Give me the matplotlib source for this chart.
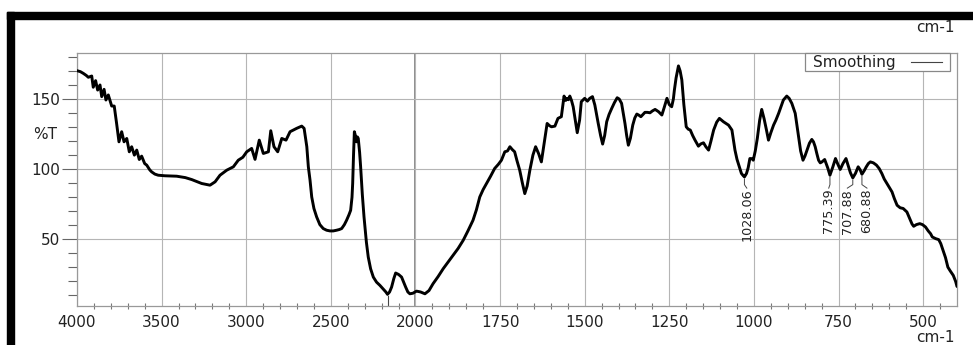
import matplotlib
matplotlib.use('Agg')
import matplotlib.pyplot as plt
import numpy as np
from matplotlib.lines import Line2D
from matplotlib.patches import Rectangle
from matplotlib.ticker import FixedLocator

# IR transmission spectrum (smoothed), wavenumber in cm-1 and %T
wavenumber = [
    4000, 3980, 3963, 3945, 3933, 3913, 3904, 3890, 3878, 3864,
    3854, 3840, 3829, 3815, 3795, 3780, 3766, 3752, 3736, 3722,
    3706, 3691, 3677, 3661, 3647, 3632, 3618, 3600, 3588, 3570,
    3559, 3540, 3520, 3480, 3411, 3360, 3322, 3263, 3214, 3184,
    3155, 3115, 3076, 3047, 3020, 2997, 2968, 2948, 2923, 2899,
    2869, 2855, 2836, 2814, 2790, 2765, 2741, 2702, 2672, 2658,
    2642, 2633, 2623, 2613, 2600, 2584, 2565, 2545, 2525, 2505,
    2486, 2466, 2450, 2436, 2420, 2407, 2393, 2383, 2375, 2371,
    2366, 2361, 2355, 2348, 2343, 2338, 2330, 2324, 2314, 2304,
    2290, 2279, 2265, 2249, 2230, 2210, 2190, 2175, 2165, 2153,
    2141, 2128, 2117, 2100, 2082, 2070, 2058, 2045, 2033, 2015,
    1997, 1985, 1972, 1960, 1948, 1933, 1918, 1903, 1889, 1874,
    1859, 1845, 1830, 1820, 1810, 1800, 1790, 1778, 1766, 1755,
    1746, 1736, 1728, 1721, 1714, 1707, 1700, 1692, 1684, 1677,
    1670, 1662, 1653, 1645, 1636, 1628, 1620, 1611, 1604, 1598,
    1588, 1579, 1569, 1565, 1561, 1556, 1552, 1548, 1544, 1539,
    1534, 1528, 1522, 1515, 1510, 1505, 1500, 1492, 1485, 1477,
    1470, 1460, 1453, 1447, 1441, 1435, 1428, 1420, 1412, 1404,
    1398, 1391, 1381, 1376, 1371, 1365, 1358, 1352, 1346, 1340,
    1334, 1328, 1322, 1315, 1307, 1300, 1292, 1282, 1272, 1265,
    1257, 1250, 1243, 1238, 1235, 1230, 1223, 1218, 1213, 1207,
    1200, 1194, 1188, 1181, 1174, 1164, 1157, 1149, 1142, 1134,
    1127, 1119, 1110, 1102, 1096, 1090, 1082, 1075, 1065, 1056,
    1050, 1043, 1037, 1032, 1028.06, 1022, 1017, 1012, 1006, 1002,
    996, 990, 983, 977, 970, 963, 957, 950, 942, 935,
    927, 920, 913, 903, 896, 888, 878, 868, 862, 855,
    849, 843, 836, 829, 824, 819, 814, 809, 804, 799,
    791, 782, 775.39, 767, 759, 752, 745, 737, 728, 722,
    715, 707.88, 700, 692, 686, 680.88, 674, 668, 662, 656,
    647, 638, 630, 622, 615, 607, 600, 592, 585, 577,
    568, 559, 548, 540, 533, 528, 520, 510, 502, 493,
    485, 478, 473, 463, 454, 448, 441, 434, 427, 420,
    411, 404, 400,
]
transmittance = [
    170.2, 169.5, 168.3, 166.8, 165.5, 166.4, 158.4, 163.1, 156.4, 160.0,
    151.7, 156.9, 149.3, 152.9, 145.0, 145.0, 132.6, 119.5, 126.7, 119.5,
    121.9, 112.4, 116.0, 110.0, 113.6, 106.9, 109.3, 104.0, 102.9, 99.5,
    98.1, 96.5, 95.7, 95.3, 95.0, 94.0, 92.6, 89.8, 88.6, 91.0,
    95.7, 99.3, 101.7, 106.4, 108.5, 112.4, 114.8, 107.0, 120.7, 111.2,
    112.4, 127.4, 116.0, 112.4, 121.9, 120.7, 126.7, 129.1, 130.7, 129.1,
    116.0, 101.7, 92.2, 80.2, 72.0, 66.0, 60.5, 57.7, 56.5, 56.0,
    56.0, 56.5, 57.0, 57.7, 60.5, 63.6, 67.5, 70.7, 80.0, 89.8,
    110.0, 126.7, 124.0, 119.5, 123.0, 121.9, 112.0, 101.7, 82.0, 66.0,
    48.0, 37.4, 29.0, 23.1, 19.5, 17.2, 14.5, 12.5, 10.8, 12.5,
    16.0, 22.0, 26.0, 25.0, 23.1, 19.5, 16.0, 12.5, 11.2, 11.6,
    13.1, 12.5, 11.2, 13.5, 18.4, 23.5, 29.1, 34.0, 38.6, 43.5,
    49.3, 56.0, 63.6, 71.0, 80.2, 85.5, 89.8, 95.0, 100.5, 103.5,
    106.4, 112.4, 113.0, 116.0, 114.0, 112.4, 106.0, 99.3, 90.0, 82.6,
    88.0, 99.3, 110.0, 116.0, 111.0, 105.2, 118.0, 132.6, 131.0, 130.2,
    130.7, 136.2, 137.4, 145.0, 152.1, 149.0, 150.5, 149.5, 152.1, 149.0,
    144.5, 135.0, 126.0, 135.0, 148.1, 149.3, 150.5, 148.5, 150.5, 151.7,
    145.7, 132.6, 124.0, 117.9, 124.0, 133.8, 139.0, 143.4, 147.5, 150.9,
    150.0, 146.9, 132.6, 124.0, 117.1, 122.0, 131.4, 136.5, 139.3, 138.5,
    137.4, 139.0, 140.5, 140.5, 140.2, 141.5, 142.6, 141.0, 138.6, 144.0,
    150.5, 146.0, 144.5, 150.0, 156.4, 165.0, 173.6, 170.0, 163.6, 146.0,
    130.2, 128.5, 127.9, 124.0, 120.7, 116.4, 118.0, 118.8, 116.0, 113.6,
    120.0, 127.9, 133.5, 136.2, 135.0, 133.8, 132.5, 131.4, 127.9, 113.6,
    107.0, 101.7, 97.0, 95.5, 94.5, 96.9, 101.0, 107.6, 107.5, 106.4,
    113.0, 121.9, 135.0, 142.6, 136.0, 128.0, 120.7, 126.0, 131.4, 135.0,
    139.8, 144.5, 149.3, 152.1, 150.5, 146.9, 139.8, 123.1, 113.0, 106.4,
    109.5, 113.6, 118.5, 121.2, 119.5, 116.0, 111.0, 106.4, 104.5, 105.2,
    106.9, 101.0, 95.7, 101.5, 107.6, 103.5, 99.8, 104.0, 107.6, 103.0,
    97.5, 93.8, 97.0, 101.7, 99.5, 96.4, 99.0, 101.7, 104.0, 105.2,
    104.5, 102.9, 100.5, 96.9, 93.0, 89.8, 87.0, 83.8, 79.0, 74.3,
    72.5, 72.0, 69.5, 65.0, 61.0, 59.3, 60.5, 61.2, 60.5, 58.8,
    56.0, 54.0, 51.7, 50.5, 49.8, 47.0, 42.1, 37.0, 30.2, 27.5,
    24.3, 20.0, 16.4,
]

# picked peaks and where their labels sit
peak_wavenumbers = [1028.06, 775.39, 707.88, 680.88]
peak_labels = ['1028.06', '775.39', '707.88', '680.88']
label_wavenumbers = [1021, 779, 724, 666]
label_top = 86.0
cut_marks = [2165]

major_x = [4000, 3500, 3000, 2500, 2000, 1750, 1500, 1250, 1000, 750, 500]
minor_x = ([w for w in range(3900, 2000, -100) if w % 500]
           + [w for w in range(1950, 400, -50) if w % 250])
major_y = [50, 100, 150]
minor_y = [v for v in range(10, 190, 10) if v % 50]

TEXT = '#222222'


def split_forward(w):
    # half scale above 2000 cm-1, full scale below
    w = np.asarray(w, dtype=float)
    return np.where(w > 2000, 2000 + (w - 2000) / 2, w)


def split_inverse(u):
    u = np.asarray(u, dtype=float)
    return np.where(u > 2000, 2000 + (u - 2000) * 2, u)


plt.rcParams['font.family'] = ['DejaVu Sans']
plt.rcParams['font.size'] = 11

W, H = 973, 345
fig = plt.figure(figsize=(W / 100, H / 100), dpi=100)
ax = fig.add_axes([77 / W, 1 - 306 / H, (957 - 77) / W, (306 - 53) / H])

ax.set_xscale('function', functions=(split_forward, split_inverse))
ax.set_xlim(4000, 400)
ax.set_ylim(2.5, 182.8)

ax.xaxis.set_major_locator(FixedLocator(major_x))
ax.xaxis.set_minor_locator(FixedLocator(minor_x))
ax.yaxis.set_major_locator(FixedLocator(major_y))
ax.yaxis.set_minor_locator(FixedLocator(minor_y))
ax.set_xticklabels([str(v) for v in major_x])
ax.set_yticklabels([str(v) for v in major_y])

ax.tick_params(axis='x', which='major', length=0, pad=6.4,
               labelcolor=TEXT, labelsize=11)
ax.tick_params(axis='x', which='minor', direction='inout', length=4,
               width=0.8, color='#777777')
ax.tick_params(axis='y', which='major', direction='out', length=11,
               width=0.8, color='#666666', pad=1.2, labelcolor=TEXT,
               labelsize=11)
ax.tick_params(axis='y', which='minor', direction='out', length=6.3,
               width=0.8, color='#666666')

ax.grid(True, which='major', color='#b5b5b5', lw=0.8)
ax.axvline(2000, color='#6e6e6e', lw=1.1, zorder=1.5)
for s in ax.spines.values():
    s.set_color('#999999')
    s.set_linewidth(0.9)

ax.plot(wavenumber, transmittance, color='black', lw=2.1,
        solid_joinstyle='round', solid_capstyle='round', zorder=3)

for w in cut_marks:
    t = transmittance[wavenumber.index(w)]
    ax.plot([w, w], [2.5, t - 1.5], color='#444444', lw=0.8, zorder=2)

for w, lab, lw_x in zip(peak_wavenumbers, peak_labels, label_wavenumbers):
    t = transmittance[wavenumber.index(w)]
    ax.plot([w, w, lw_x], [t - 1.5, label_top + 3.0, label_top + 0.5],
            color='#444444', lw=0.7, zorder=2)
    ax.text(lw_x, label_top, lab, rotation=90, ha='center', va='top',
            fontsize=9.2, color=TEXT, zorder=4)

ax.text(-0.023, 125, '%T', transform=ax.get_yaxis_transform(),
        ha='right', va='center', color=TEXT, fontsize=11)

# legend box: label on the left, thin line sample on the right
fig.add_artist(Rectangle((805 / W, 1 - 70.7 / H), 145 / W, 17.7 / H,
                         transform=fig.transFigure, facecolor='white',
                         edgecolor='#888888', lw=0.9, zorder=5))
fig.text(813 / W, 1 - 62.3 / H, 'Smoothing', ha='left', va='center',
         color=TEXT, fontsize=11, zorder=6)
fig.add_artist(Line2D([910.7 / W, 941.7 / W], [1 - 61.7 / H, 1 - 61.7 / H],
                      transform=fig.transFigure, color='#444444', lw=0.8,
                      zorder=6))

fig.text(955 / W, 1 - 28 / H, 'cm-1', ha='right', va='center',
         color=TEXT, fontsize=11)
fig.text(955 / W, 1 - 338 / H, 'cm-1', ha='right', va='center',
         color=TEXT, fontsize=11)

# black frame on top and left
fig.add_artist(Rectangle((7 / W, 1 - 19 / H), 1, 7 / H,
                         transform=fig.transFigure, color='black'))
fig.add_artist(Rectangle((7 / W, 0), 7 / W, 1 - 12 / H,
                         transform=fig.transFigure, color='black'))

fig.savefig('out.png', dpi=100)
